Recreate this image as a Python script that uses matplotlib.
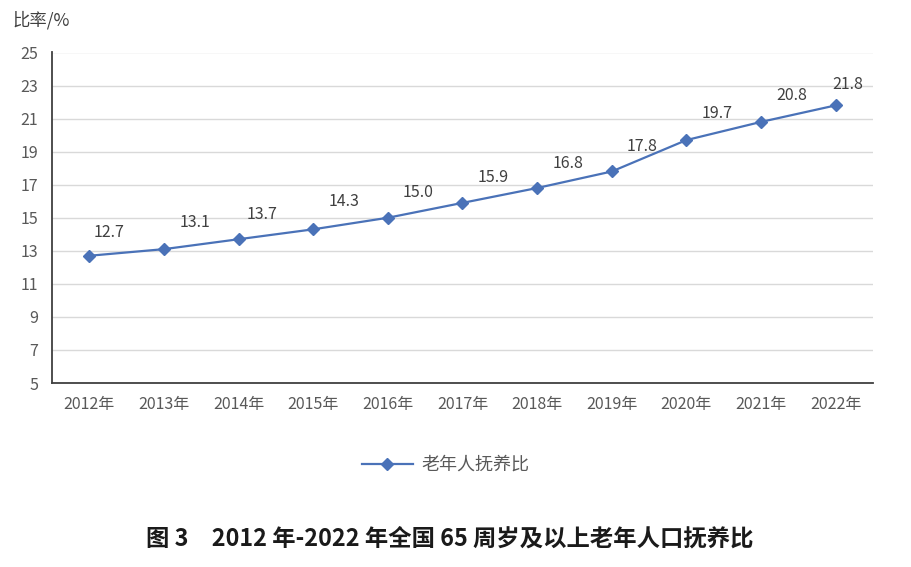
import matplotlib
matplotlib.use("Agg")
import matplotlib.pyplot as plt
from matplotlib.lines import Line2D

plt.rcParams['font.family'] = ['Noto Sans CJK SC', 'DejaVu Sans']

years = ['2012年', '2013年', '2014年', '2015年', '2016年', '2017年',
         '2018年', '2019年', '2020年', '2021年', '2022年']
ratio = [12.7, 13.1, 13.7, 14.3, 15.0, 15.9, 16.8, 17.8, 19.7, 20.8, 21.8]
yticks = [5, 7, 9, 11, 13, 15, 17, 19, 21, 23, 25]
series_name = '老年人抚养比'
ylabel = '比率/%'
title = '图 3　2012 年-2022 年全国 65 周岁及以上老年人口抚养比'

# label offsets in points (style only)
label_offsets = [(14, 17), (22, 19), (17, 18), (22, 20), (22, 18), (22, 18),
                 (22, 18), (22, 18), (22, 19), (22, 19), (9, 15)]

W, H = 912, 567
fig = plt.figure(figsize=(W / 100, H / 100), dpi=100)
ax = fig.add_axes([52 / W, 1 - 383 / H, (873 - 52) / W, (383 - 52.5) / H])

line_color = '#4A72B8'
x = list(range(len(years)))
ax.plot(x, ratio, color=line_color, lw=1.6, marker='D', ms=6.5,
        markerfacecolor=line_color, markeredgecolor=line_color, zorder=3)

for xi, v, off in zip(x, ratio, label_offsets):
    ax.annotate(f'{v:.1f}', (xi, v), xytext=off, textcoords='offset points',
                ha='center', va='center', fontsize=11.5, color='#404040')

ax.set_xlim(-0.5, len(years) - 0.5)
ax.set_ylim(5, 25)
ax.set_yticks(yticks)
ax.set_xticks(x)
ax.set_xticklabels(years)
ax.grid(axis='y', color='#D9D9D9', lw=1)
ax.set_axisbelow(True)
for s in ['top', 'right']:
    ax.spines[s].set_visible(False)
for s in ['left', 'bottom']:
    ax.spines[s].set_color('#404040')
    ax.spines[s].set_linewidth(1.3)
ax.tick_params(axis='both', length=0, colors='#595959', labelsize=11.5)
ax.tick_params(axis='y', pad=10)
ax.tick_params(axis='x', pad=9)

fig.text(12 / W, 1 - 20 / H, ylabel, fontsize=12.5, color='#404040',
         ha='left', va='center')

handle = Line2D([], [], color=line_color, lw=1.6, marker='D', ms=6.5,
                markerfacecolor=line_color, markeredgecolor=line_color)
fig.legend([handle], [series_name], loc='center', bbox_to_anchor=(446 / W, 1 - 465 / H),
           frameon=False, fontsize=13, labelcolor='#595959', handlelength=2.8,
           handletextpad=0.5)

fig.text(450 / W, 1 - 538 / H, title, fontsize=16.8, fontweight='bold',
         color='#1a1a1a', ha='center', va='center')

fig.savefig('out.png', dpi=100)
